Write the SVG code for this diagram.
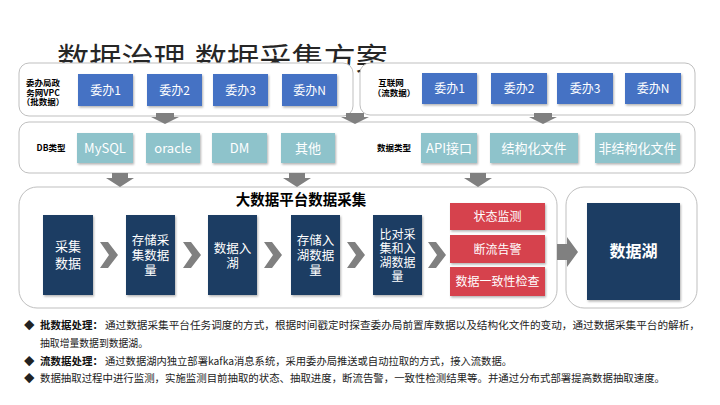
<svg xmlns="http://www.w3.org/2000/svg" width="720" height="405" viewBox="0 0 720 405">
<defs>
<filter id="sh" x="-20%" y="-20%" width="150%" height="150%">
<feDropShadow dx="1" dy="1.5" stdDeviation="1" flood-color="#000" flood-opacity="0.3"/>
</filter>
<style>
.panel{fill:#fff;stroke:#BFBFBF;stroke-width:1}
.blue{fill:#4472C4;filter:url(#sh)}
.teal{fill:#8EC3CB;filter:url(#sh)}
.navy{fill:#1F3D63;filter:url(#sh)}
.red{fill:#D6434E;filter:url(#sh)}
.garr{fill:#808080}
.t{font-family:"Noto Sans CJK SC","Liberation Sans",sans-serif}
.wt{font-family:"Noto Sans CJK SC","Liberation Sans",sans-serif;fill:#fff;text-anchor:middle}
.lbl{font-family:"Noto Sans CJK SC","Liberation Sans",sans-serif;font-weight:bold;font-size:8.5px;fill:#000;text-anchor:middle}
.desc{font-family:"Noto Sans CJK SC","Liberation Sans",sans-serif;font-size:10.5px;fill:#222}
.descb{font-family:"Noto Sans CJK SC","Liberation Sans",sans-serif;font-size:10.5px;fill:#111;font-weight:bold}
</style>
</defs>
<rect width="720" height="405" fill="#fff"/>
<text class="t" x="57" y="70" font-size="31" fill="#262626" textLength="331" lengthAdjust="spacingAndGlyphs">数据治理.数据采集方案</text>

<g id="panel-batch">
<rect class="panel" x="19" y="63" width="334" height="53" rx="10"/>
<text class="lbl" x="43" y="86">委办局政</text>
<text class="lbl" x="43" y="95.5">务网VPC</text>
<text class="lbl" x="43" y="105">（批数据）</text>
</g>
<g id="b-wb1"><rect class="blue" x="78" y="74" width="55" height="32"/><text class="wt" x="105.5" y="94.5" font-size="12">委办1</text></g>
<g id="b-wb2"><rect class="blue" x="147" y="74" width="55" height="32"/><text class="wt" x="174.5" y="94.5" font-size="12">委办2</text></g>
<g id="b-wb3"><rect class="blue" x="213" y="74" width="55" height="32"/><text class="wt" x="240.5" y="94.5" font-size="12">委办3</text></g>
<g id="b-wbN"><rect class="blue" x="282" y="74" width="55" height="32"/><text class="wt" x="309.5" y="94.5" font-size="12">委办N</text></g>

<g id="panel-stream">
<rect class="panel" x="360" y="63" width="335" height="52" rx="10"/>
<text class="lbl" x="391" y="86">互联网</text>
<text class="lbl" x="394" y="96">（流数据）</text>
</g>
<g id="s-wb1"><rect class="blue" x="422" y="73" width="55" height="31"/><text class="wt" x="449.5" y="92.5" font-size="12">委办1</text></g>
<g id="s-wb2"><rect class="blue" x="491" y="73" width="56" height="31"/><text class="wt" x="519" y="92.5" font-size="12">委办2</text></g>
<g id="s-wb3"><rect class="blue" x="557" y="73" width="56" height="31"/><text class="wt" x="585" y="92.5" font-size="12">委办3</text></g>
<g id="s-wbN"><rect class="blue" x="625" y="73" width="56" height="31"/><text class="wt" x="653" y="92.5" font-size="12">委办N</text></g>

<g id="panel-types">
<rect class="panel" x="19" y="122" width="676" height="51" rx="10"/>
<text class="lbl" x="51" y="151" font-size="9">DB类型</text>
<text class="lbl" x="394" y="151" font-size="9">数据类型</text>
</g>
<g id="t-mysql"><rect class="teal" x="77" y="133" width="56" height="30"/><text class="wt" x="105" y="152.5" font-size="13">MySQL</text></g>
<g id="t-oracle"><rect class="teal" x="146" y="133" width="54" height="30"/><text class="wt" x="173" y="152.5" font-size="13">oracle</text></g>
<g id="t-dm"><rect class="teal" x="212" y="133" width="55" height="30"/><text class="wt" x="239.5" y="152.5" font-size="13">DM</text></g>
<g id="t-other"><rect class="teal" x="281" y="133" width="54" height="30"/><text class="wt" x="308" y="152.5" font-size="13">其他</text></g>
<g id="t-api"><rect class="teal" x="421" y="133" width="56" height="30"/><text class="wt" x="449" y="152.5" font-size="13">API接口</text></g>
<g id="t-struct"><rect class="teal" x="490" y="133" width="88" height="30"/><text class="wt" x="534" y="152.5" font-size="13">结构化文件</text></g>
<g id="t-unstruct"><rect class="teal" x="595" y="133" width="85" height="30"/><text class="wt" x="637.5" y="152.5" font-size="13">非结构化文件</text></g>

<g id="panel-platform">
<rect class="panel" x="19" y="187" width="538" height="121" rx="18"/>
<text class="t" x="301" y="205" font-size="14.5" font-weight="bold" fill="#000" text-anchor="middle">大数据平台数据采集</text>
</g>
<g id="p-collect"><rect class="navy" x="43" y="215" width="50" height="80"/>
<text class="wt" font-size="13"><tspan x="68" y="251">采集</tspan><tspan x="68" y="268">数据</tspan></text></g>
<g id="p-storecount"><rect class="navy" x="126" y="215" width="49" height="80"/>
<text class="wt" font-size="12.5"><tspan x="150.5" y="245">存储采</tspan><tspan x="150.5" y="260">集数据</tspan><tspan x="150.5" y="275">量</tspan></text></g>
<g id="p-lake"><rect class="navy" x="208" y="215" width="49" height="80"/>
<text class="wt" font-size="12.5"><tspan x="232.5" y="253">数据入</tspan><tspan x="232.5" y="268">湖</tspan></text></g>
<g id="p-storelake"><rect class="navy" x="291" y="215" width="49" height="80"/>
<text class="wt" font-size="12.5"><tspan x="315.5" y="245">存储入</tspan><tspan x="315.5" y="260">湖数据</tspan><tspan x="315.5" y="275">量</tspan></text></g>
<g id="p-compare"><rect class="navy" x="373" y="215" width="49" height="80"/>
<text class="wt" font-size="12"><tspan x="397.5" y="239">比对采</tspan><tspan x="397.5" y="253">集和入</tspan><tspan x="397.5" y="267">湖数据</tspan><tspan x="397.5" y="281">量</tspan></text></g>
<g id="m-status"><rect class="red" x="450" y="203" width="95" height="27"/><text class="wt" x="497.5" y="221" font-size="12">状态监测</text></g>
<g id="m-alarm"><rect class="red" x="450" y="235" width="95" height="28"/><text class="wt" x="497.5" y="253.5" font-size="12">断流告警</text></g>
<g id="m-check"><rect class="red" x="450" y="267" width="95" height="29"/><text class="wt" x="497.5" y="286" font-size="12">数据一致性检查</text></g>

<g id="panel-datalake">
<rect class="panel" x="566" y="187" width="131" height="121" rx="18"/>
<rect class="navy" x="587" y="203" width="93" height="97"/>
<text class="wt" x="633.5" y="257" font-size="16" font-weight="bold">数据湖</text>
</g>

<g id="connectors">
<polygon class="garr" points="156,113 174,113 174,117 179,117 165,124 151,117 156,117"/>
<polygon class="garr" points="346,113 364,113 364,117 369,117 355,124 341,117 346,117"/>
<polygon class="garr" points="534,113 552,113 552,117 557,117 543,124 529,117 534,117"/>
<polygon class="garr" points="112,173 128,173 128,178 134,178 120,187 106,178 112,178"/>
<polygon class="garr" points="289,173 305,173 305,178 311,178 297,187 283,178 289,178"/>
<polygon class="garr" points="470,173 486,173 486,178 492,178 478,187 464,178 470,178"/>
<polygon class="garr" points="100,242 108,242 118,255 108,268 100,268 109,255"/>
<polygon class="garr" points="183,242 191,242 201,255 191,268 183,268 192,255"/>
<polygon class="garr" points="264,242 272,242 282,255 272,268 264,268 273,255"/>
<polygon class="garr" points="347,242 355,242 365,255 355,268 347,268 356,255"/>
<polygon class="garr" points="428,242 436,242 446,255 436,268 428,268 437,255"/>
<polygon class="garr" points="557,244 567,244 567,237 578,252 567,267 567,260 557,260"/>
</g>

<g id="notes">
<text class="desc" x="24" y="329" font-size="10">◆</text>
<text class="descb" x="40" y="329" textLength="63" lengthAdjust="spacingAndGlyphs">批数据处理：</text>
<text class="desc" x="105" y="329" textLength="595" lengthAdjust="spacingAndGlyphs">通过数据采集平台任务调度的方式，根据时间戳定时探查委办局前置库数据以及结构化文件的变动，通过数据采集平台的解析，</text>
<text class="desc" x="40" y="347" textLength="108" lengthAdjust="spacingAndGlyphs">抽取增量数据到数据湖。</text>
<text class="desc" x="24" y="365" font-size="10">◆</text>
<text class="descb" x="40" y="365" textLength="63" lengthAdjust="spacingAndGlyphs">流数据处理：</text>
<text class="desc" x="105" y="365" textLength="407" lengthAdjust="spacingAndGlyphs">通过数据湖内独立部署kafka消息系统，采用委办局推送或自动拉取的方式，接入流数据。</text>
<text class="desc" x="24" y="382" font-size="10">◆</text>
<text class="desc" x="40" y="382" textLength="625" lengthAdjust="spacingAndGlyphs">数据抽取过程中进行监测，实施监测目前抽取的状态、抽取进度，断流告警，一致性检测结果等。并通过分布式部署提高数据抽取速度。</text>
</g>
</svg>
